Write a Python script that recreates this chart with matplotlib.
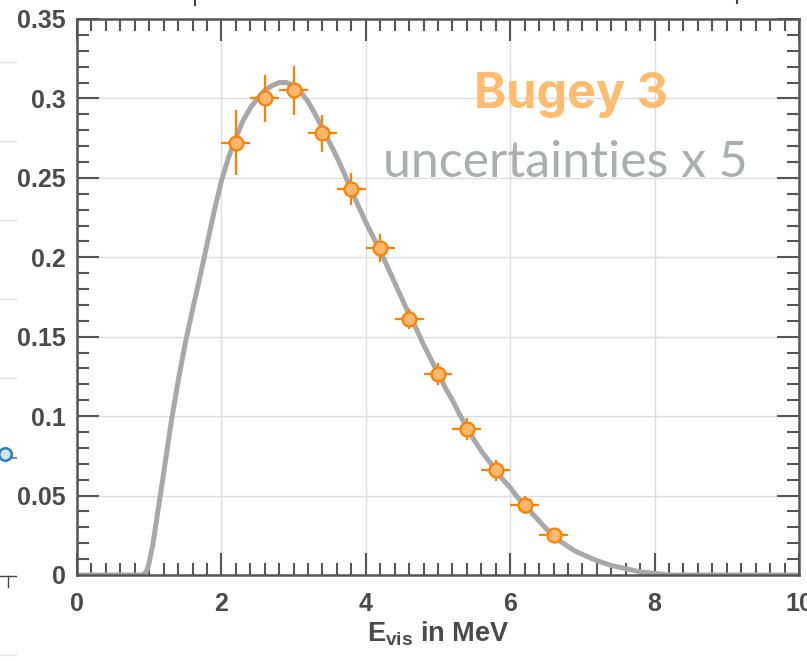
import matplotlib
matplotlib.use("Agg")
import matplotlib.pyplot as plt
from matplotlib.lines import Line2D
from matplotlib.ticker import MultipleLocator

plt.rcParams['font.family'] = ['Liberation Sans', 'DejaVu Sans']
plt.rcParams['mathtext.fontset'] = 'custom'
plt.rcParams['mathtext.rm'] = 'Liberation Sans:bold'
plt.rcParams['mathtext.bf'] = 'Liberation Sans:bold'

# Bugey 3 measured spectrum (uncertainties scaled x5)
e_bins = [2.2, 2.6, 3.0, 3.4, 3.8, 4.2, 4.6, 5.0, 5.4, 5.8, 6.2, 6.6]
counts = [0.272, 0.300, 0.305, 0.278, 0.243, 0.206, 0.161, 0.1266, 0.092, 0.066, 0.044, 0.025]
y_err = [0.0205, 0.0147, 0.0157, 0.0116, 0.0098, 0.0087, 0.0063, 0.0071, 0.0068, 0.0066, 0.0058, 0.0042]
x_err = [0.2] * len(e_bins)

# prediction curve
e_curve = [0.0, 0.5, 0.9, 0.93, 0.97, 1.0, 1.05, 1.1, 1.2, 1.3, 1.4, 1.5, 1.6, 1.7, 1.8, 1.9, 2.0,
           2.1, 2.2, 2.3, 2.4, 2.5, 2.6, 2.7, 2.8, 2.9, 3.0, 3.1, 3.2, 3.3, 3.4, 3.5,
           3.6, 3.7, 3.8, 3.9, 4.0, 4.1, 4.2, 4.3, 4.4, 4.5, 4.6, 4.7, 4.8, 4.9, 5.0,
           5.1, 5.2, 5.3, 5.4, 5.5, 5.6, 5.7, 5.8, 5.9, 6.0, 6.1, 6.2, 6.3, 6.4, 6.5,
           6.6, 6.7, 6.8, 6.9, 7.0, 7.2, 7.4, 7.6, 7.8, 8.0, 8.2, 10.0]
flux = [0.0, 0.0, 0.0, 0.0005, 0.003, 0.008, 0.019, 0.034, 0.064, 0.095, 0.122, 0.146, 0.167, 0.187, 0.208, 0.229, 0.248,
        0.263, 0.275, 0.286, 0.294, 0.300, 0.305, 0.308, 0.310, 0.310, 0.308, 0.304, 0.298, 0.290, 0.281, 0.272,
        0.263, 0.253, 0.242, 0.232, 0.222, 0.213, 0.204, 0.194, 0.184, 0.174, 0.164, 0.155, 0.145, 0.136, 0.127,
        0.118, 0.110, 0.101, 0.093, 0.085, 0.078, 0.072, 0.066, 0.060, 0.055, 0.049, 0.044, 0.039, 0.034, 0.029,
        0.025, 0.021, 0.018, 0.015, 0.013, 0.009, 0.006, 0.004, 0.002, 0.001, 0.0, 0.0]

fig = plt.figure(figsize=(8.07, 6.61), dpi=100)
ax = fig.add_axes([77 / 807, 86 / 661, 722 / 807, 556 / 661])

axis_col = '#555555'
ax.plot(e_curve, flux, color='#a8a8a8', lw=3.6, solid_joinstyle='round', zorder=2)
ax.errorbar(e_bins, counts, xerr=x_err, yerr=y_err, fmt='o', ms=10,
            mfc='#ffb86e', mec='#ff7f00', mew=1.6, ecolor='#ff7f00',
            elinewidth=1.6, capsize=0, zorder=3)

ax.set_xlim(0, 10)
ax.set_ylim(0, 0.35)
ax.xaxis.set_minor_locator(MultipleLocator(0.2))
ax.yaxis.set_minor_locator(MultipleLocator(0.01))
ax.set_yticks([0, 0.05, 0.1, 0.15, 0.2, 0.25, 0.3, 0.35])
ax.set_yticklabels(['0', '0.05', '0.1', '0.15', '0.2', '0.25', '0.3', '0.35'])
ax.set_xticks([0, 2, 4, 6, 8, 10])
ax.set_xticklabels(['0', '2', '4', '6', '8', '10'])

ax.grid(True, which='major', color='#dcdcdc', lw=1)
ax.set_axisbelow(True)
ax.tick_params(which='both', direction='in', top=True, right=True,
               color=axis_col, width=1.5, labelsize=18, labelcolor='#4a4a4a')
ax.tick_params(which='major', length=16)
ax.tick_params(which='minor', length=8.5)
ax.tick_params(axis='x', pad=12)
ax.tick_params(axis='y', pad=8)
for lab in ax.get_xticklabels() + ax.get_yticklabels():
    lab.set_fontweight('bold')
for sp in ax.spines.values():
    sp.set_color(axis_col)
    sp.set_linewidth(1.8)

ax.set_xlabel(r'$\mathbf{E_{vis}}$ in MeV', fontsize=19.5, fontweight='bold',
              color='#4a4a4a', labelpad=3)

ax.text(0.8186, 0.84, 'Bugey 3', transform=ax.transAxes, ha='right', va='baseline',
        fontsize=35, fontweight='bold', color='#ffbb6e', family=['Inter', 'DejaVu Sans'])
ax.text(0.929, 0.716, 'uncertainties x 5', transform=ax.transAxes, ha='right',
        va='baseline', fontsize=36, fontweight='normal', color='#abaeae',
        family=['Lato', 'DejaVu Sans'])

# pieces of neighbouring panels cut by the crop
def px_line(xs, ys, **kw):
    fig.add_artist(Line2D([x / 807 for x in xs], [1 - y / 661 for y in ys], **kw))

for yy in [62, 141, 220, 299, 378, 655]:
    px_line([0, 16], [yy, yy], color='#e2e2e2', lw=1)
px_line([0, 16], [576, 576], color='#444444', lw=1)
px_line([8, 8], [576, 587], color='#444444', lw=1)
px_line([195, 195], [0, 5], color='#444444', lw=1.5)
px_line([737, 737], [0, 3], color='#444444', lw=1.5)
px_line([0, 16], [458, 458], color='#8a8a8a', lw=1.5)
px_line([5], [454], marker='o', ms=9, mfc='#cfe3f3', mec='#2a7fc0', mew=1.8)

fig.savefig('out.png', dpi=100)
